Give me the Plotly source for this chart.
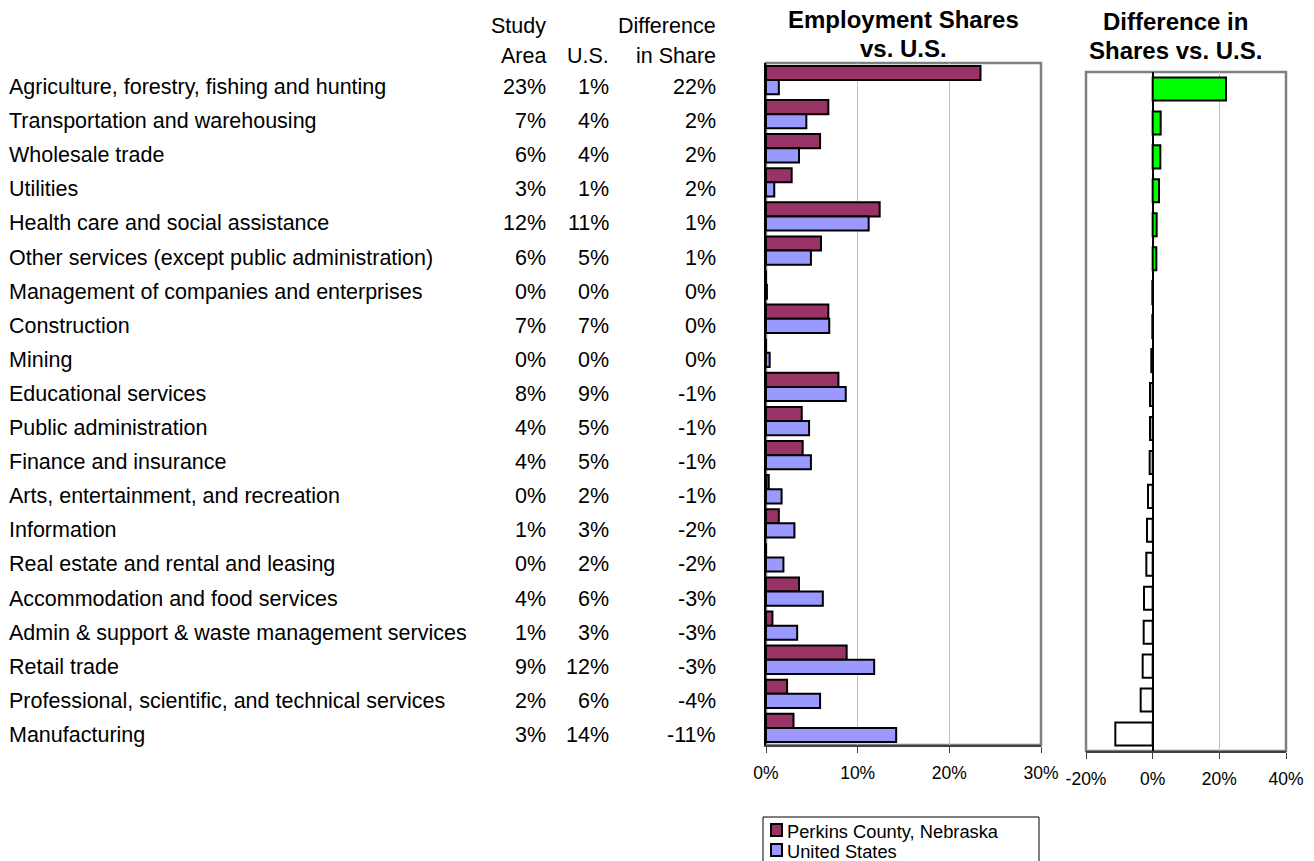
import plotly.graph_objects as go

# ---- data -------------------------------------------------------------
industries = [
    "Agriculture, forestry, fishing and hunting",
    "Transportation and warehousing",
    "Wholesale trade",
    "Utilities",
    "Health care and social assistance",
    "Other services (except public administration)",
    "Management of companies and enterprises",
    "Construction",
    "Mining",
    "Educational services",
    "Public administration",
    "Finance and insurance",
    "Arts, entertainment, and recreation",
    "Information",
    "Real estate and rental and leasing",
    "Accommodation and food services",
    "Admin & support & waste management services",
    "Retail trade",
    "Professional, scientific, and technical services",
    "Manufacturing",
]
study_area = [23.4, 6.8, 5.9, 2.8, 12.4, 6.0, 0.0, 6.8, 0.0, 7.9,
              3.9, 4.0, 0.3, 1.4, 0.0, 3.6, 0.7, 8.8, 2.3, 3.0]
united_states = [1.4, 4.4, 3.6, 0.9, 11.2, 4.9, 0.1, 6.9, 0.4, 8.7,
                 4.7, 4.9, 1.7, 3.1, 1.9, 6.2, 3.4, 11.8, 5.9, 14.2]
difference = [22.0, 2.4, 2.3, 1.9, 1.2, 1.1, -0.1, -0.1, -0.4, -0.8,
              -0.8, -0.9, -1.4, -1.7, -1.9, -2.6, -2.7, -3.0, -3.6, -11.2]

area_name = "Perkins County, Nebraska"
us_name = "United States"
shares_ticks = [0, 10, 20, 30]
diff_ticks = [-20, 0, 20, 40]

# ---- page geometry (pixels) -------------------------------------------
W, H = 1314, 861
FONT = "Liberation Sans, Arial, Helvetica, sans-serif"
AREA_COLOR = "#993366"
US_COLOR = "#9999FF"
POS_COLOR = "#00FF00"
NEG_COLOR = "#FFFFFF"
GRID = "#C0C0C0"
FRAME = "#808080"


def px(x):
    return x / W


def py(y):
    return 1 - y / H


mid_x = [px(766), px(1041)]
mid_y = [py(745), py(63)]
right_x = [px(1086), px(1286)]
right_y = [py(751), py(72)]

rows = list(range(len(industries)))

fig = go.Figure()

# grouped bars: study area vs U.S.
fig.add_trace(go.Bar(
    y=rows, x=study_area, orientation="h", name=area_name,
    marker=dict(color=AREA_COLOR, line=dict(color="black", width=2)),
    xaxis="x", yaxis="y", showlegend=False,
))
fig.add_trace(go.Bar(
    y=rows, x=united_states, orientation="h", name=us_name,
    marker=dict(color=US_COLOR, line=dict(color="black", width=2)),
    xaxis="x", yaxis="y", showlegend=False,
))

# difference bars
fig.add_trace(go.Bar(
    y=rows, x=difference, orientation="h", name="Difference",
    marker=dict(color=[POS_COLOR if d > 0 else NEG_COLOR for d in difference],
                line=dict(color="black", width=2)),
    xaxis="x2", yaxis="y2", showlegend=False, width=0.68,
))

tick_font = dict(family=FONT, size=17.5, color="black")

fig.update_layout(
    width=W, height=H,
    margin=dict(l=0, r=0, t=0, b=0, pad=0, autoexpand=False),
    showlegend=False,
    paper_bgcolor="white", plot_bgcolor="white",
    barmode="group", bargap=0.17, bargroupgap=0,
    font=dict(family=FONT, color="black"),
    xaxis=dict(
        domain=mid_x, anchor="y", range=[0, 30], tickvals=shares_ticks,
        ticktext=[f"{t}%" for t in shares_ticks], tickfont=tick_font,
        showgrid=True, gridcolor=GRID, gridwidth=1, zeroline=False,
        showline=True, linecolor="#404040", linewidth=1.5,
        ticks="outside", ticklen=6, tickcolor="#404040",
        ticklabelstandoff=5, fixedrange=True, automargin=False,
    ),
    yaxis=dict(
        domain=mid_y, anchor="x", range=[19.5, -0.5],
        showticklabels=False, showgrid=False, zeroline=False,
        showline=True, linecolor="black", linewidth=1.5, ticks="",
        fixedrange=True, automargin=False,
    ),
    xaxis2=dict(
        domain=right_x, anchor="y2", range=[-20, 40], tickvals=diff_ticks,
        ticktext=[f"{t}%" for t in diff_ticks], tickfont=tick_font,
        showgrid=True, gridcolor=GRID, gridwidth=1,
        zeroline=True, zerolinecolor="black", zerolinewidth=1.5,
        showline=True, linecolor="#404040", linewidth=1.5,
        ticks="outside", ticklen=6, tickcolor="#404040",
        ticklabelstandoff=5, fixedrange=True, automargin=False,
    ),
    yaxis2=dict(
        domain=right_y, anchor="x2", range=[19.5, -0.5],
        showticklabels=False, showgrid=False, zeroline=False,
        showline=False, ticks="", fixedrange=True, automargin=False,
    ),
)

shapes = []
# grey plot frames
for xd, yd in ((mid_x, mid_y), (right_x, right_y)):
    shapes.append(dict(type="rect", xref="paper", yref="paper",
                       x0=xd[0], x1=xd[1], y0=yd[0], y1=yd[1],
                       line=dict(color=FRAME, width=2.5), layer="below"))

annotations = []


def text(x, y, s, size=21.5, anchor="right", bold=False, xref="paper", yref="paper", yshift=0):
    annotations.append(dict(
        x=x, y=y, xref=xref, yref=yref, text=f"<b>{s}</b>" if bold else s,
        showarrow=False, xanchor=anchor, yanchor="middle", yshift=yshift,
        borderpad=0, font=dict(family=FONT, size=size, color="black"),
    ))


# chart titles
text(px(903), py(19), "Employment Shares", size=24, anchor="center", bold=True)
text(px(903), py(49), "vs. U.S.", size=24, anchor="center", bold=True)
text(px(1175), py(21), "Difference in", size=24, anchor="center", bold=True)
text(px(1175), py(51), "Shares vs. U.S.", size=24, anchor="center", bold=True)

# table headers
COL_AREA, COL_US, COL_DIFF = px(547), px(610), px(717)
text(COL_AREA, py(26), "Study")
text(COL_AREA, py(56), "Area")
text(COL_US, py(56), "U.S.")
text(COL_DIFF, py(26), "Difference")
text(COL_DIFF, py(56), "in Share")

# table rows, aligned to the bar rows
for i, name in enumerate(industries):
    text(px(8), i, name, anchor="left", yref="y", yshift=-7)
    text(COL_AREA, i, f"{round(study_area[i])}%", yref="y", yshift=-7)
    text(COL_US, i, f"{round(united_states[i])}%", yref="y", yshift=-7)
    text(COL_DIFF, i, f"{round(difference[i])}%", yref="y", yshift=-7)

# legend box
shapes.append(dict(type="rect", xref="paper", yref="paper",
                   x0=px(763), x1=px(1039), y0=py(875), y1=py(817),
                   line=dict(color="black", width=1), fillcolor="white"))
for label, color, yc in ((area_name, AREA_COLOR, 830), (us_name, US_COLOR, 850)):
    shapes.append(dict(type="rect", xref="paper", yref="paper",
                       x0=px(771), x1=px(782), y0=py(yc + 6), y1=py(yc - 6),
                       line=dict(color="black", width=2), fillcolor=color))
    text(px(786), py(yc + 1), label, size=18.3, anchor="left")

fig.update_layout(shapes=shapes, annotations=annotations)

fig.write_html("out.html")
